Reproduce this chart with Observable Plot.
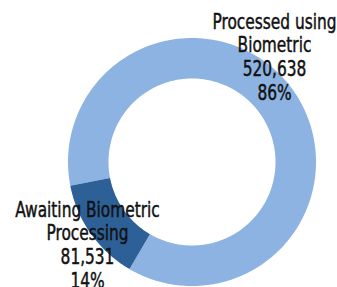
<!DOCTYPE html>
<html>
<head>
<meta charset="utf-8">
<script src="https://cdn.jsdelivr.net/npm/d3@7"></script>
<script src="https://cdn.jsdelivr.net/npm/@observablehq/plot@0.6"></script>
<style>
  html, body { margin: 0; padding: 0; background: #fff; }
  #chart svg { display: block; }
</style>
</head>
<body>
<div id="chart"></div>
<script>
// ---- data ----
const categories = ["Processed using Biometric", "Awaiting Biometric Processing"];
const labelLines = [["Processed using", "Biometric"], ["Awaiting Biometric", "Processing"]];
const values = [520638, 81531];
const colors = ["#8DB3E2", "#2C6096"];

// ---- layout ----
const W = 337, H = 287;
const cx = 191.5, cy = 161.5, rOuter = 124, rInner = 83.5;
const startDeg = 259;
const labelPos = [[274, 56], [87, 244]];
const firstLineWidth = 124; // width of "Processed using" in the reference, px

const total = d3.sum(values);
const pie = d3.pie().sort(null)
  .startAngle(startDeg * Math.PI / 180)
  .endAngle((startDeg + 360) * Math.PI / 180);
const arcs = pie(values);

// polygon outline for each slice (outer arc forward, inner arc back)
const slicePts = [];
arcs.forEach((a, i) => {
  const n = Math.max(8, Math.ceil((a.endAngle - a.startAngle) * 60));
  for (let k = 0; k <= n; k++) {
    const t = a.startAngle + (a.endAngle - a.startAngle) * k / n;
    slicePts.push({cat: categories[i], x: cx + rOuter * Math.sin(t), y: cy - rOuter * Math.cos(t)});
  }
  for (let k = n; k >= 0; k--) {
    const t = a.startAngle + (a.endAngle - a.startAngle) * k / n;
    slicePts.push({cat: categories[i], x: cx + rInner * Math.sin(t), y: cy - rInner * Math.cos(t)});
  }
});

const labels = categories.map((c, i) => ({
  cat: c,
  x: labelPos[i][0],
  y: labelPos[i][1],
  text: [...labelLines[i], d3.format(",")(values[i]), Math.round(values[i] / total * 100) + "%"].join("\n")
}));

const chart = Plot.plot({
  width: W,
  height: H,
  margin: 0,
  x: {domain: [0, W], range: [0, W], axis: null},
  y: {domain: [0, H], range: [0, H], axis: null},
  color: {domain: categories, range: colors},
  style: {fontFamily: "'DejaVu Sans Condensed', 'DejaVu Sans', sans-serif", background: "#fff", fontStretch: "condensed"},
  marks: [
    Plot.line(slicePts, {x: "x", y: "y", z: "cat", fill: "cat", stroke: null, curve: "linear"}),
    Plot.text(labels, {
      x: "x", y: "y", text: "text",
      fontSize: 21, lineHeight: 1.13, lineAnchor: "middle",
      fill: "#111", stroke: "#111", strokeWidth: 0.45, textAnchor: "middle"
    })
  ]
});
document.getElementById("chart").appendChild(chart);

// condense label text horizontally to match the narrow reference face
const texts = chart.querySelectorAll('g[aria-label="text"] text');
let natural = null;
texts.forEach(t => {
  const first = t.querySelector("tspan") || t;
  if (natural === null) natural = first.getComputedTextLength();
});
const f = natural ? Math.min(1, firstLineWidth / natural) : 1;
texts.forEach(t => {
  const bb = t.getBBox();
  const m = bb.x + bb.width / 2;
  const prev = t.getAttribute("transform") || "";
  t.setAttribute("transform", `${prev} translate(${m},0) scale(${f},1) translate(${-m},0)`);
});
</script>
</body>
</html>
